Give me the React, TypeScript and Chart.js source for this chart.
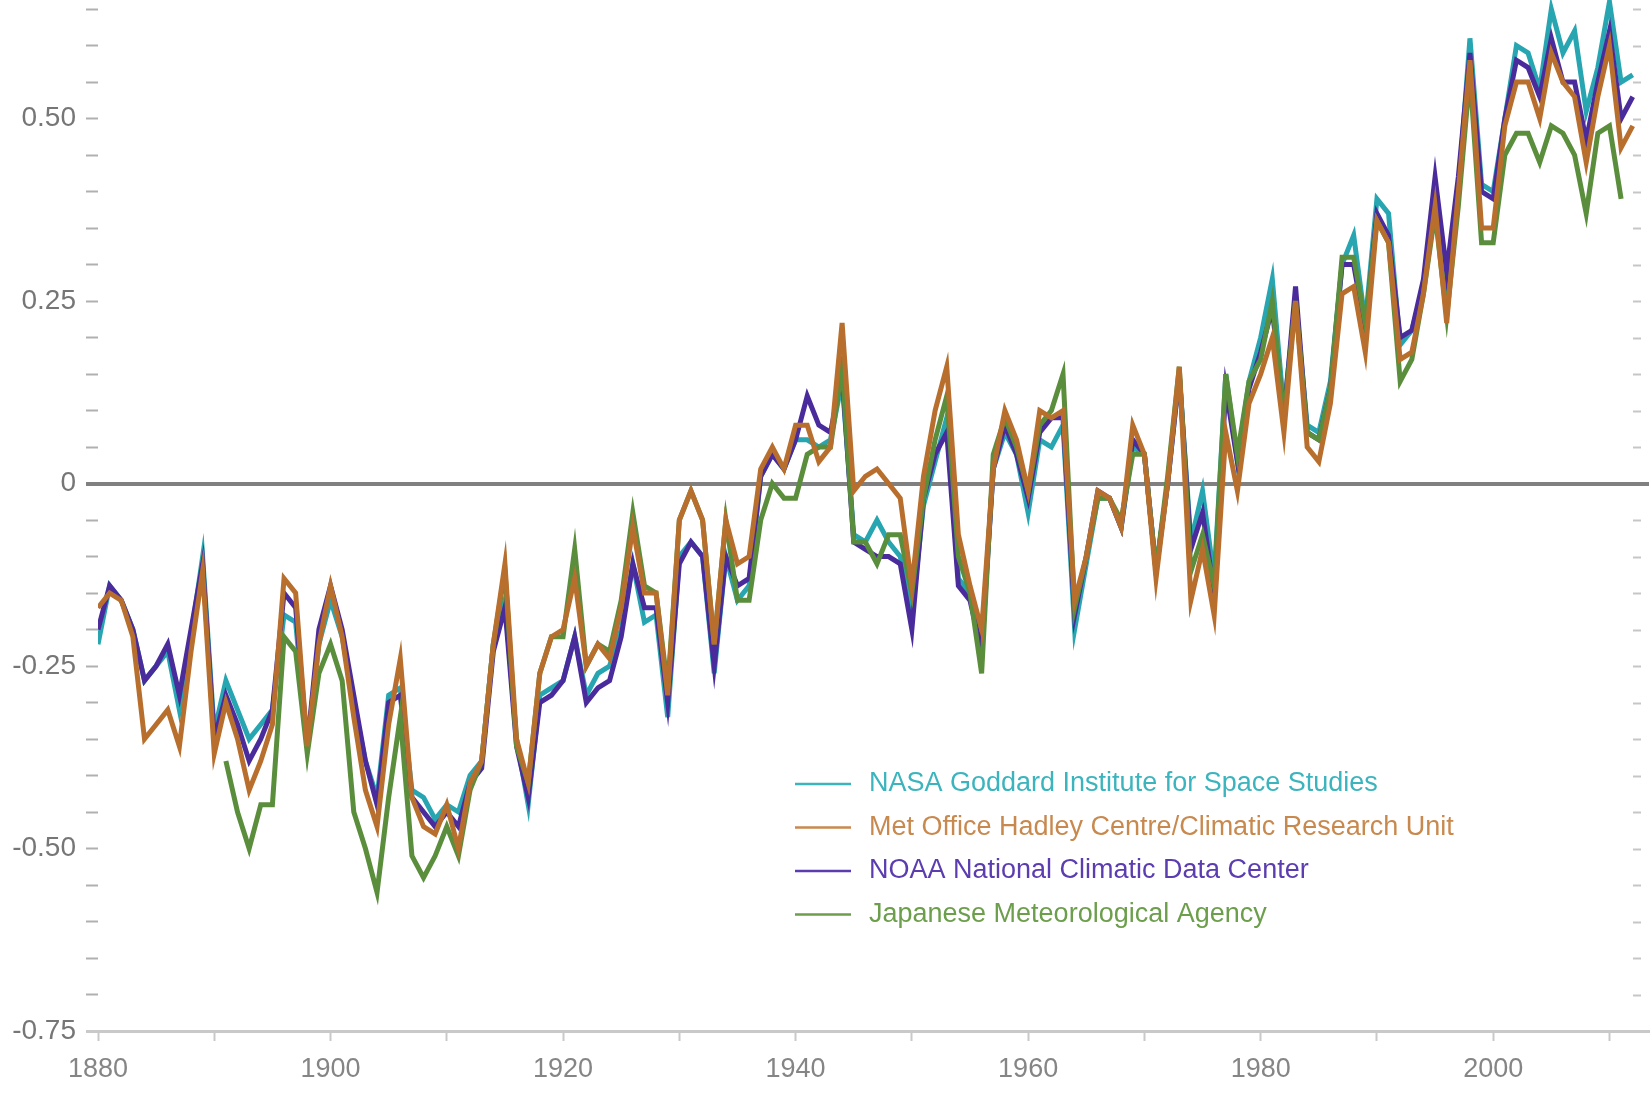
import React, { useEffect, useRef } from 'react';
import { Chart, registerables } from 'chart.js';

Chart.register(...registerables);

// ---------- data ----------
const FIRST_YEAR = 1880;
const LAST_YEAR = 2012;
const years: number[] = [];
for (let yr = FIRST_YEAR; yr <= LAST_YEAR; yr++) years.push(yr);

// NASA Goddard Institute for Space Studies
const nasa: (number | null)[] = [
  -0.22, -0.14, -0.16, -0.20, -0.27, -0.25, -0.23, -0.31, -0.21, -0.10,
  -0.34, -0.27, -0.31, -0.35, -0.33, -0.31, -0.18, -0.19, -0.36, -0.22,
  -0.16, -0.21, -0.30, -0.38, -0.43, -0.29, -0.28, -0.42, -0.43, -0.46,
  -0.44, -0.45, -0.40, -0.38, -0.22, -0.16, -0.35, -0.44, -0.29, -0.28,
  -0.27, -0.21, -0.29, -0.26, -0.25, -0.20, -0.11, -0.19, -0.18, -0.32,
  -0.10, -0.08, -0.10, -0.26, -0.10, -0.16, -0.14, 0.01, 0.04, 0.02,
  0.06, 0.06, 0.05, 0.06, 0.14, -0.07, -0.08, -0.05, -0.08, -0.10,
  -0.18, -0.03, 0.03, 0.09, -0.13, -0.15, -0.22, 0.02, 0.07, 0.04,
  -0.04, 0.06, 0.05, 0.08, -0.20, -0.11, -0.02, -0.02, -0.06, 0.05,
  0.04, -0.12, 0.00, 0.15, -0.08, -0.01, -0.13, 0.15, 0.03, 0.14,
  0.20, 0.28, 0.10, 0.25, 0.08, 0.07, 0.14, 0.30, 0.34, 0.22,
  0.39, 0.37, 0.19, 0.21, 0.27, 0.40, 0.28, 0.40, 0.61, 0.41,
  0.40, 0.50, 0.60, 0.59, 0.54, 0.65, 0.59, 0.62, 0.51, 0.57,
  0.66, 0.55, 0.56,
];

// Met Office Hadley Centre / Climatic Research Unit
const hadcrut: (number | null)[] = [
  -0.17, -0.15, -0.16, -0.21, -0.35, -0.33, -0.31, -0.36, -0.23, -0.12,
  -0.37, -0.30, -0.35, -0.42, -0.38, -0.33, -0.13, -0.15, -0.36, -0.22,
  -0.14, -0.21, -0.32, -0.42, -0.47, -0.33, -0.24, -0.43, -0.47, -0.48,
  -0.44, -0.50, -0.41, -0.38, -0.22, -0.11, -0.35, -0.41, -0.26, -0.21,
  -0.20, -0.13, -0.25, -0.22, -0.24, -0.17, -0.06, -0.15, -0.15, -0.29,
  -0.05, -0.01, -0.05, -0.22, -0.05, -0.11, -0.10, 0.02, 0.05, 0.02,
  0.08, 0.08, 0.03, 0.05, 0.22, -0.01, 0.01, 0.02, 0.00, -0.02,
  -0.14, 0.01, 0.10, 0.16, -0.07, -0.14, -0.20, 0.02, 0.10, 0.06,
  -0.01, 0.10, 0.09, 0.10, -0.16, -0.10, -0.01, -0.02, -0.06, 0.08,
  0.04, -0.13, 0.00, 0.16, -0.16, -0.09, -0.18, 0.07, -0.01, 0.11,
  0.15, 0.20, 0.07, 0.25, 0.05, 0.03, 0.11, 0.26, 0.27, 0.18,
  0.36, 0.33, 0.17, 0.18, 0.26, 0.38, 0.22, 0.40, 0.58, 0.35,
  0.35, 0.49, 0.55, 0.55, 0.50, 0.59, 0.55, 0.53, 0.44, 0.53,
  0.60, 0.46, 0.49,
];

// NOAA National Climatic Data Center
const noaa: (number | null)[] = [
  -0.20, -0.14, -0.16, -0.20, -0.27, -0.25, -0.22, -0.29, -0.20, -0.11,
  -0.35, -0.29, -0.33, -0.38, -0.35, -0.31, -0.15, -0.17, -0.36, -0.20,
  -0.14, -0.20, -0.29, -0.38, -0.44, -0.30, -0.29, -0.43, -0.45, -0.47,
  -0.45, -0.47, -0.41, -0.39, -0.23, -0.17, -0.36, -0.43, -0.30, -0.29,
  -0.27, -0.21, -0.30, -0.28, -0.27, -0.21, -0.11, -0.17, -0.17, -0.30,
  -0.11, -0.08, -0.10, -0.25, -0.10, -0.14, -0.13, 0.01, 0.04, 0.02,
  0.06, 0.12, 0.08, 0.07, 0.15, -0.08, -0.09, -0.10, -0.10, -0.11,
  -0.20, -0.02, 0.04, 0.07, -0.14, -0.16, -0.23, 0.02, 0.08, 0.04,
  -0.02, 0.07, 0.09, 0.09, -0.18, -0.10, -0.01, -0.02, -0.06, 0.06,
  0.04, -0.12, 0.00, 0.15, -0.09, -0.04, -0.15, 0.13, 0.03, 0.13,
  0.18, 0.24, 0.09, 0.27, 0.07, 0.06, 0.13, 0.30, 0.30, 0.21,
  0.37, 0.34, 0.20, 0.21, 0.28, 0.42, 0.29, 0.42, 0.59, 0.40,
  0.39, 0.50, 0.58, 0.57, 0.53, 0.61, 0.55, 0.55, 0.47, 0.55,
  0.62, 0.50, 0.53,
];

// Japanese Meteorological Agency (1891-2011)
const jma: (number | null)[] = [
  null, null, null, null, null, null, null, null, null, null,
  null, -0.38, -0.45, -0.50, -0.44, -0.44, -0.21, -0.23, -0.37, -0.26,
  -0.22, -0.27, -0.45, -0.50, -0.56, -0.43, -0.32, -0.51, -0.54, -0.51,
  -0.47, -0.51, -0.42, -0.38, -0.22, -0.12, -0.36, -0.41, -0.26, -0.21,
  -0.21, -0.09, -0.25, -0.22, -0.23, -0.16, -0.04, -0.14, -0.15, -0.28,
  -0.05, -0.01, -0.05, -0.22, -0.05, -0.16, -0.16, -0.05, 0.00, -0.02,
  -0.02, 0.04, 0.05, 0.05, 0.16, -0.08, -0.08, -0.11, -0.07, -0.07,
  -0.15, -0.02, 0.06, 0.12, -0.10, -0.15, -0.26, 0.04, 0.09, 0.05,
  -0.01, 0.08, 0.10, 0.15, -0.17, -0.10, -0.02, -0.02, -0.05, 0.04,
  0.04, -0.12, 0.01, 0.16, -0.12, -0.07, -0.14, 0.15, 0.04, 0.14,
  0.17, 0.25, 0.09, 0.25, 0.07, 0.06, 0.13, 0.31, 0.31, 0.22,
  0.36, 0.33, 0.14, 0.17, 0.26, 0.37, 0.23, 0.38, 0.56, 0.33,
  0.33, 0.45, 0.48, 0.48, 0.44, 0.49, 0.48, 0.45, 0.37, 0.48,
  0.49, 0.39, null,
];

const seriesNames = [
  'NASA Goddard Institute for Space Studies',
  'Met Office Hadley Centre/Climatic Research Unit',
  'NOAA National Climatic Data Center',
  'Japanese Meteorological Agency',
];
const seriesValues = [nasa, hadcrut, noaa, jma];
const lineColors = ['#27a5b0', '#b86f2e', '#4a2b9c', '#5b8e3c'];
const legendColors = ['#3cb4bd', '#c8894f', '#5b3db0', '#6c9e4b'];
const drawOrder = [3, 0, 2, 1]; // lower = drawn on top

const yLabelValues = [-0.75, -0.5, -0.25, 0, 0.25, 0.5];
const yLabelTexts = ['-0.75', '-0.50', '-0.25', '0', '0.25', '0.50'];
const xLabelYears = [1880, 1900, 1920, 1940, 1960, 1980, 2000];

const FONT = "'Liberation Sans', Arial, Helvetica, sans-serif";

const isVal = (a: number, b: number) => Math.abs(a - b) < 1e-6;

const overlayPlugin = {
  id: 'overlay',
  afterDraw(chart: any) {
    const ctx = chart.ctx as CanvasRenderingContext2D;
    const area = chart.chartArea;
    const yScale = chart.scales.y;
    ctx.save();
    // right-hand minor ticks
    ctx.strokeStyle = '#c6c6c6';
    ctx.lineWidth = 2;
    yScale.ticks.forEach((t: any) => {
      if (isVal(t.value, 0) || isVal(t.value, -0.75)) return;
      const py = Math.round(yScale.getPixelForValue(t.value)) + 0.5;
      ctx.beginPath();
      ctx.moveTo(area.right - 16, py);
      ctx.lineTo(area.right - 8, py);
      ctx.stroke();
    });
    // legend
    const lx = 795;
    const ly = 784;
    const gap = 43.5;
    ctx.font = `27px ${FONT}`;
    ctx.textBaseline = 'middle';
    ctx.textAlign = 'left';
    seriesNames.forEach((name, i) => {
      const y = ly + i * gap;
      ctx.strokeStyle = legendColors[i];
      ctx.lineWidth = 2.5;
      ctx.beginPath();
      ctx.moveTo(lx, y);
      ctx.lineTo(lx + 56, y);
      ctx.stroke();
      ctx.fillStyle = legendColors[i];
      ctx.fillText(name, lx + 74, y);
    });
    ctx.restore();
  },
};

export default function App() {
  const canvasRef = useRef<HTMLCanvasElement | null>(null);

  useEffect(() => {
    document.body.style.margin = '0';
    const canvas = canvasRef.current;
    if (!canvas) return;

    const datasets = seriesNames.map((name, i) => ({
      label: name,
      data: years.map((yr, k) => ({ x: yr, y: seriesValues[i][k] })),
      borderColor: lineColors[i],
      backgroundColor: lineColors[i],
      borderWidth: 5,
      pointRadius: 0,
      tension: 0,
      fill: false,
      spanGaps: false,
      order: drawOrder[i],
      borderJoinStyle: 'miter' as const,
    }));

    const chart = new Chart(canvas, {
      type: 'line',
      data: { datasets },
      plugins: [overlayPlugin],
      options: {
        responsive: false,
        animation: false,
        devicePixelRatio: 1,
        events: [],
        layout: { padding: { top: 0, right: 3, bottom: 0, left: 0 } },
        plugins: { legend: { display: false }, tooltip: { enabled: false } },
        scales: {
          x: {
            type: 'linear',
            min: 1880,
            max: 2013.4,
            afterFit: (s: any) => {
              s.height = 64;
              s.paddingLeft = 0;
              s.paddingRight = 0;
            },
            border: { display: true, color: '#c9c9c9', width: 3 },
            grid: {
              drawOnChartArea: false,
              drawTicks: true,
              tickLength: 10,
              tickColor: '#c9c9c9',
              tickWidth: 2,
            },
            ticks: {
              stepSize: 10,
              includeBounds: false,
              autoSkip: false,
              maxRotation: 0,
              padding: 12,
              color: '#858585',
              font: { family: FONT, size: 27 },
              callback: (v: any) => (xLabelYears.indexOf(Math.round(Number(v))) >= 0 ? String(Math.round(Number(v))) : ''),
            },
          },
          y: {
            type: 'linear',
            min: -0.75,
            max: 0.6625,
            afterFit: (s: any) => {
              s.width = 98;
              s.paddingTop = 0;
              s.paddingBottom = 0;
            },
            border: { display: false },
            grid: {
              drawOnChartArea: true,
              drawTicks: true,
              tickLength: 12,
              color: (c: any) => (c.tick && isVal(c.tick.value, 0) ? '#808080' : 'rgba(0,0,0,0)'),
              lineWidth: (c: any) => (c.tick && isVal(c.tick.value, 0) ? 4 : 1),
              tickColor: (c: any) => {
                if (!c.tick) return '#b0b0b0';
                if (isVal(c.tick.value, 0)) return '#808080';
                if (isVal(c.tick.value, -0.75)) return '#c9c9c9';
                return '#b0b0b0';
              },
              tickWidth: (c: any) => {
                if (!c.tick) return 2;
                if (isVal(c.tick.value, 0)) return 4;
                if (isVal(c.tick.value, -0.75)) return 3;
                return 2;
              },
            },
            ticks: {
              stepSize: 0.05,
              includeBounds: false,
              autoSkip: false,
              padding: 10,
              color: '#767676',
              font: { family: FONT, size: 28 },
              callback: (v: any) => {
                const n = Number(v);
                const idx = yLabelValues.findIndex((lv) => isVal(lv, n));
                return idx >= 0 ? yLabelTexts[idx] : '';
              },
            },
          },
        },
      },
    });

    return () => {
      chart.destroy();
    };
  }, []);

  return (
    <canvas
      ref={canvasRef}
      width={1652}
      height={1095}
      style={{ display: 'block', width: '1652px', height: '1095px' }}
    />
  );
}
